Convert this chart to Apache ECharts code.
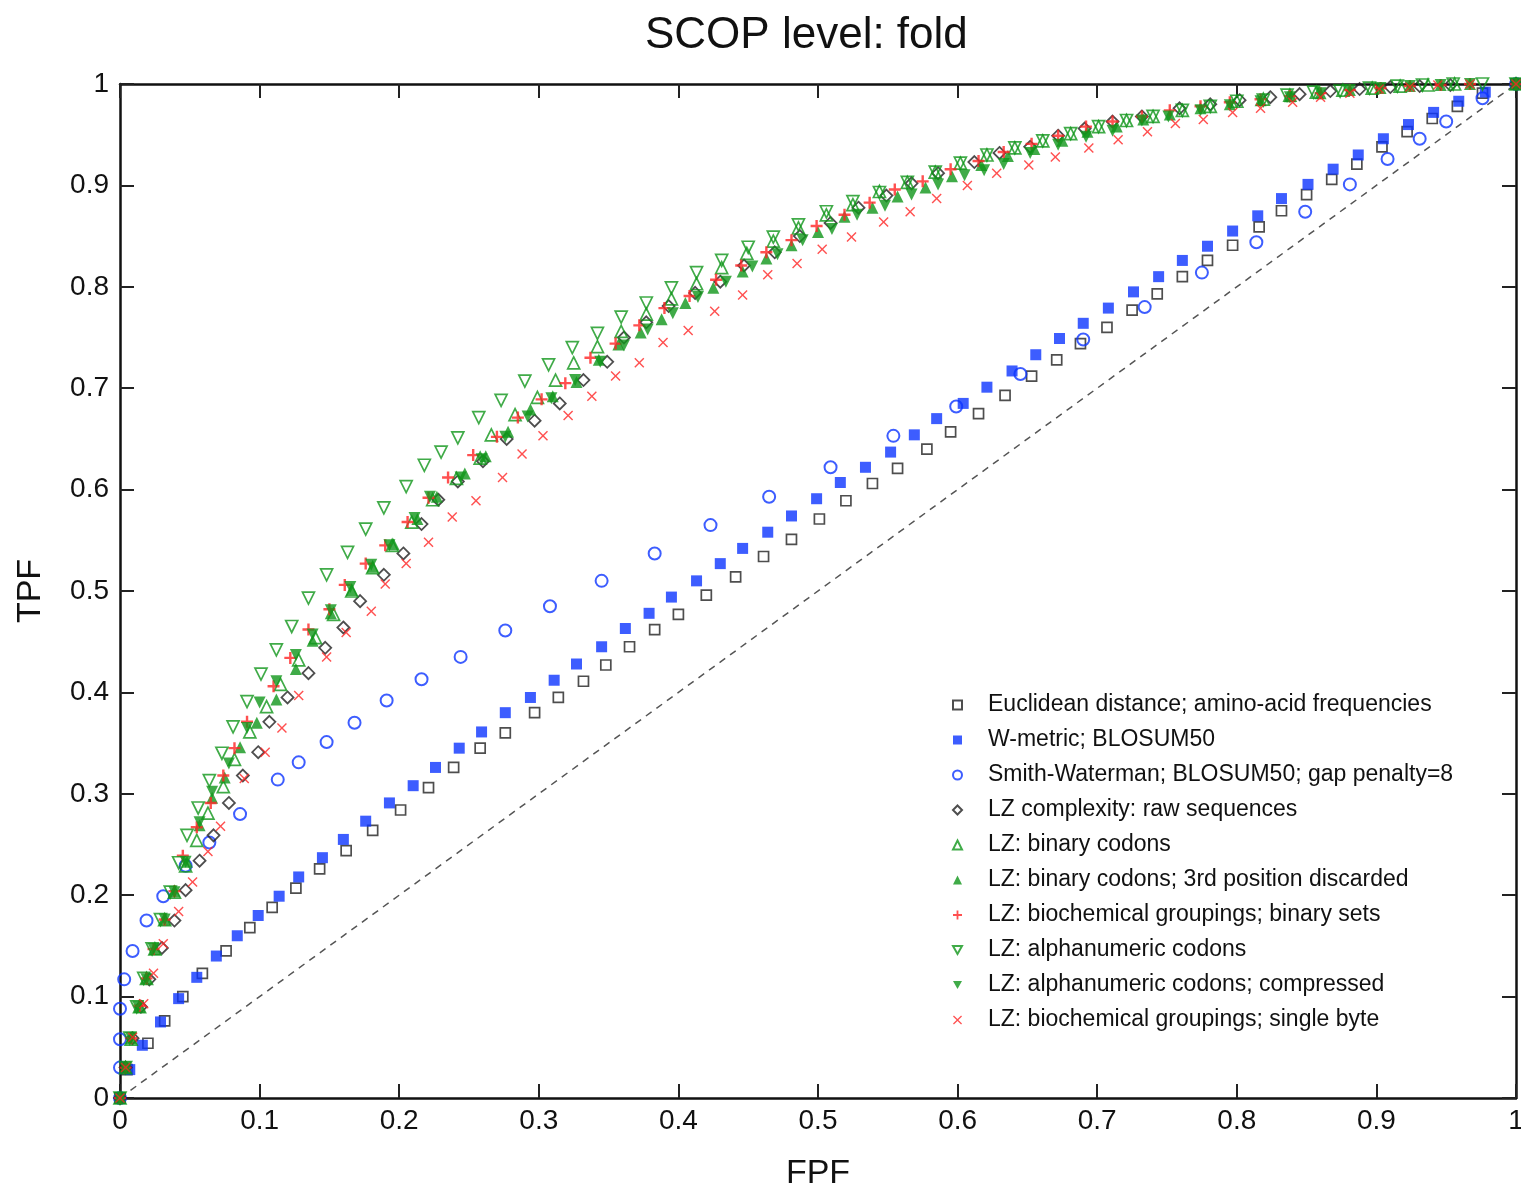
<!DOCTYPE html>
<html>
<head>
<meta charset="utf-8">
<title>SCOP level: fold</title>
<script src="https://cdn.jsdelivr.net/npm/echarts@6.0.0/dist/echarts.min.js"></script>
<style>
  html, body { margin: 0; padding: 0; background: #fff; overflow: hidden; }
  #chart { width: 1521px; height: 1191px; }
</style>
</head>
<body>
<div id="chart"></div>
<script>
// ROC points, [FPF, TPF]
const euclid = [[0,0],[0.005,0.028],[0.020,0.054],[0.032,0.076],[0.045,0.100],[0.059,0.123],[0.076,0.145],[0.093,0.168],[0.109,0.188],[0.126,0.207],[0.143,0.226],[0.162,0.244],[0.181,0.264],[0.201,0.284],[0.221,0.306],[0.239,0.326],[0.258,0.345],[0.276,0.360],[0.297,0.380],[0.314,0.395],[0.332,0.411],[0.348,0.427],[0.365,0.445],[0.383,0.462],[0.400,0.477],[0.420,0.496],[0.441,0.514],[0.461,0.534],[0.481,0.551],[0.501,0.571],[0.520,0.589],[0.539,0.606],[0.557,0.621],[0.578,0.640],[0.595,0.657],[0.615,0.675],[0.634,0.693],[0.653,0.712],[0.671,0.728],[0.688,0.744],[0.707,0.760],[0.725,0.777],[0.743,0.793],[0.761,0.810],[0.779,0.826],[0.797,0.841],[0.816,0.859],[0.832,0.875],[0.850,0.891],[0.868,0.906],[0.886,0.921],[0.904,0.938],[0.922,0.953],[0.940,0.966],[0.958,0.978],[0.976,0.991],[1,1]];
const wmetric = [[0,0],[0.007,0.028],[0.016,0.052],[0.029,0.075],[0.042,0.098],[0.055,0.119],[0.069,0.140],[0.084,0.160],[0.099,0.180],[0.114,0.199],[0.128,0.218],[0.145,0.237],[0.160,0.255],[0.176,0.273],[0.193,0.291],[0.210,0.308],[0.226,0.326],[0.243,0.345],[0.259,0.361],[0.276,0.380],[0.294,0.395],[0.311,0.412],[0.327,0.428],[0.345,0.445],[0.362,0.463],[0.379,0.478],[0.395,0.494],[0.413,0.510],[0.430,0.527],[0.446,0.542],[0.464,0.558],[0.481,0.574],[0.499,0.591],[0.516,0.607],[0.534,0.622],[0.552,0.637],[0.569,0.654],[0.585,0.670],[0.604,0.685],[0.621,0.701],[0.639,0.717],[0.656,0.733],[0.673,0.749],[0.690,0.764],[0.708,0.779],[0.726,0.795],[0.744,0.810],[0.761,0.826],[0.779,0.840],[0.797,0.855],[0.815,0.870],[0.832,0.887],[0.851,0.901],[0.869,0.916],[0.887,0.930],[0.905,0.946],[0.923,0.960],[0.941,0.972],[0.959,0.983],[0.978,0.992],[1,1]];
const smithW = [[0,0],[0,0.030],[0,0.058],[0,0.088],[0.003,0.117],[0.009,0.145],[0.019,0.175],[0.031,0.199],[0.047,0.229],[0.064,0.252],[0.086,0.280],[0.113,0.314],[0.128,0.331],[0.148,0.351],[0.168,0.370],[0.191,0.392],[0.216,0.413],[0.244,0.435],[0.276,0.461],[0.308,0.485],[0.345,0.510],[0.383,0.537],[0.423,0.565],[0.465,0.593],[0.509,0.622],[0.554,0.653],[0.599,0.682],[0.645,0.714],[0.690,0.748],[0.734,0.780],[0.775,0.814],[0.814,0.844],[0.849,0.874],[0.881,0.901],[0.908,0.926],[0.931,0.946],[0.950,0.963],[0.976,0.986],[1,1]];
const lzRaw = [[0,0],[0.004,0.030],[0.009,0.059],[0.015,0.090],[0.021,0.117],[0.030,0.148],[0.039,0.175],[0.047,0.205],[0.057,0.234],[0.067,0.259],[0.078,0.291],[0.088,0.318],[0.099,0.341],[0.107,0.371],[0.120,0.395],[0.135,0.419],[0.147,0.444],[0.160,0.464],[0.172,0.490],[0.189,0.516],[0.203,0.537],[0.216,0.566],[0.228,0.590],[0.242,0.608],[0.260,0.628],[0.277,0.650],[0.297,0.668],[0.315,0.685],[0.332,0.708],[0.349,0.726],[0.361,0.750],[0.377,0.765],[0.393,0.781],[0.412,0.794],[0.430,0.805],[0.447,0.821],[0.469,0.834],[0.487,0.850],[0.509,0.863],[0.529,0.878],[0.549,0.890],[0.567,0.902],[0.586,0.912],[0.612,0.923],[0.630,0.932],[0.652,0.938],[0.672,0.949],[0.691,0.956],[0.711,0.963],[0.732,0.968],[0.759,0.976],[0.781,0.980],[0.802,0.984],[0.824,0.987],[0.845,0.990],[0.867,0.993],[0.888,0.995],[0.910,0.997],[0.931,0.998],[0.953,0.999],[1,1]];
const lzBinary = [[0,0],[0.004,0.030],[0.008,0.058],[0.014,0.090],[0.019,0.118],[0.025,0.147],[0.032,0.176],[0.039,0.203],[0.047,0.229],[0.055,0.254],[0.063,0.281],[0.074,0.307],[0.082,0.334],[0.093,0.361],[0.105,0.386],[0.115,0.408],[0.128,0.432],[0.140,0.454],[0.153,0.477],[0.166,0.500],[0.181,0.523],[0.195,0.545],[0.209,0.568],[0.224,0.590],[0.241,0.611],[0.258,0.631],[0.266,0.654],[0.283,0.674],[0.299,0.691],[0.312,0.708],[0.325,0.725],[0.342,0.741],[0.359,0.756],[0.377,0.773],[0.395,0.788],[0.413,0.803],[0.431,0.819],[0.449,0.833],[0.468,0.845],[0.486,0.858],[0.506,0.871],[0.525,0.881],[0.544,0.894],[0.564,0.903],[0.584,0.913],[0.602,0.922],[0.621,0.930],[0.641,0.937],[0.661,0.944],[0.681,0.951],[0.701,0.958],[0.721,0.964],[0.740,0.968],[0.761,0.974],[0.781,0.978],[0.800,0.983],[0.819,0.985],[0.838,0.989],[0.857,0.992],[0.876,0.994],[0.897,0.996],[0.917,0.998],[0.937,0.999],[0.956,1],[1,1]];
const lzBinary3rd = [[0,0],[0.004,0.030],[0.008,0.059],[0.014,0.090],[0.019,0.118],[0.025,0.147],[0.032,0.176],[0.039,0.204],[0.048,0.233],[0.057,0.269],[0.066,0.296],[0.075,0.316],[0.086,0.346],[0.098,0.370],[0.112,0.393],[0.126,0.423],[0.138,0.451],[0.151,0.478],[0.166,0.501],[0.181,0.524],[0.196,0.546],[0.213,0.571],[0.227,0.593],[0.247,0.616],[0.262,0.633],[0.278,0.657],[0.294,0.679],[0.310,0.692],[0.327,0.706],[0.343,0.728],[0.357,0.743],[0.373,0.755],[0.388,0.768],[0.405,0.784],[0.425,0.799],[0.446,0.815],[0.463,0.828],[0.481,0.841],[0.500,0.854],[0.519,0.869],[0.539,0.878],[0.557,0.889],[0.577,0.898],[0.596,0.909],[0.617,0.920],[0.636,0.929],[0.655,0.936],[0.675,0.944],[0.693,0.953],[0.714,0.958],[0.733,0.965],[0.752,0.970],[0.774,0.976],[0.795,0.980],[0.817,0.984],[0.838,0.988],[0.860,0.991],[0.881,0.994],[0.903,0.996],[0.924,0.998],[0.946,0.999],[0.967,1],[1,1]];
const lzBioSets = [[0,0],[0.004,0.030],[0.008,0.059],[0.014,0.091],[0.019,0.118],[0.024,0.147],[0.032,0.176],[0.039,0.204],[0.045,0.239],[0.055,0.267],[0.065,0.291],[0.074,0.318],[0.082,0.345],[0.091,0.371],[0.110,0.406],[0.122,0.434],[0.135,0.462],[0.150,0.482],[0.161,0.506],[0.176,0.527],[0.190,0.545],[0.206,0.568],[0.221,0.592],[0.235,0.612],[0.253,0.634],[0.270,0.652],[0.285,0.671],[0.302,0.689],[0.319,0.705],[0.337,0.730],[0.355,0.744],[0.372,0.762],[0.390,0.779],[0.408,0.791],[0.427,0.807],[0.445,0.821],[0.463,0.834],[0.481,0.846],[0.499,0.860],[0.519,0.871],[0.537,0.883],[0.555,0.896],[0.575,0.904],[0.595,0.916],[0.615,0.924],[0.633,0.933],[0.653,0.941],[0.672,0.949],[0.692,0.958],[0.711,0.963],[0.732,0.968],[0.752,0.974],[0.774,0.978],[0.795,0.982],[0.817,0.985],[0.838,0.988],[0.860,0.991],[0.881,0.994],[0.903,0.996],[0.924,0.998],[0.946,0.999],[0.967,1],[1,1]];
const lzAlpha = [[0,0],[0.004,0.030],[0.007,0.059],[0.012,0.090],[0.017,0.118],[0.023,0.147],[0.029,0.176],[0.036,0.203],[0.042,0.232],[0.048,0.259],[0.056,0.286],[0.064,0.313],[0.073,0.340],[0.081,0.366],[0.091,0.391],[0.101,0.418],[0.112,0.442],[0.123,0.465],[0.135,0.493],[0.148,0.516],[0.163,0.538],[0.176,0.561],[0.189,0.582],[0.205,0.603],[0.218,0.624],[0.230,0.637],[0.242,0.651],[0.257,0.671],[0.273,0.688],[0.290,0.707],[0.307,0.723],[0.324,0.740],[0.342,0.754],[0.359,0.770],[0.377,0.784],[0.395,0.799],[0.413,0.814],[0.431,0.826],[0.450,0.839],[0.468,0.849],[0.486,0.861],[0.506,0.874],[0.525,0.884],[0.544,0.893],[0.564,0.903],[0.584,0.913],[0.602,0.922],[0.621,0.930],[0.641,0.937],[0.661,0.944],[0.681,0.951],[0.701,0.958],[0.721,0.964],[0.740,0.968],[0.761,0.974],[0.781,0.978],[0.800,0.983],[0.819,0.984],[0.836,0.989],[0.855,0.992],[0.874,0.993],[0.895,0.996],[0.915,0.998],[0.933,0.999],[0.955,1],[0.976,1],[1,1]];
const lzAlphaComp = [[0,0],[0.004,0.030],[0.008,0.059],[0.013,0.090],[0.019,0.117],[0.024,0.147],[0.032,0.176],[0.039,0.203],[0.047,0.233],[0.057,0.272],[0.066,0.302],[0.078,0.330],[0.091,0.365],[0.100,0.390],[0.112,0.411],[0.126,0.437],[0.138,0.457],[0.151,0.481],[0.165,0.504],[0.180,0.526],[0.193,0.545],[0.211,0.572],[0.222,0.593],[0.244,0.612],[0.259,0.630],[0.276,0.652],[0.292,0.672],[0.309,0.690],[0.326,0.708],[0.344,0.726],[0.361,0.742],[0.378,0.758],[0.396,0.774],[0.414,0.790],[0.434,0.805],[0.453,0.820],[0.471,0.832],[0.489,0.846],[0.510,0.857],[0.528,0.871],[0.548,0.880],[0.567,0.891],[0.586,0.901],[0.605,0.910],[0.619,0.915],[0.633,0.921],[0.652,0.932],[0.672,0.940],[0.692,0.948],[0.711,0.954],[0.732,0.964],[0.751,0.968],[0.774,0.974],[0.795,0.979],[0.817,0.983],[0.838,0.987],[0.860,0.991],[0.881,0.994],[0.903,0.996],[0.924,0.998],[0.946,0.999],[0.967,1],[1,1]];
const lzBioByte = [[0,0],[0.004,0.030],[0.009,0.060],[0.017,0.093],[0.024,0.123],[0.031,0.152],[0.042,0.184],[0.052,0.213],[0.063,0.243],[0.072,0.268],[0.089,0.315],[0.104,0.341],[0.116,0.365],[0.128,0.397],[0.148,0.435],[0.162,0.459],[0.180,0.480],[0.190,0.507],[0.205,0.527],[0.221,0.548],[0.238,0.573],[0.255,0.589],[0.274,0.612],[0.288,0.635],[0.303,0.653],[0.321,0.673],[0.338,0.692],[0.355,0.712],[0.372,0.725],[0.389,0.745],[0.407,0.757],[0.426,0.776],[0.446,0.792],[0.464,0.812],[0.485,0.823],[0.503,0.837],[0.524,0.849],[0.547,0.864],[0.566,0.874],[0.585,0.887],[0.607,0.900],[0.628,0.912],[0.651,0.920],[0.670,0.928],[0.694,0.937],[0.715,0.945],[0.736,0.953],[0.756,0.961],[0.776,0.965],[0.797,0.972],[0.817,0.976],[0.840,0.982],[0.860,0.987],[0.881,0.991],[0.902,0.995],[0.924,0.997],[0.944,0.999],[0.967,1],[1,1]];

const names = [
  'Euclidean distance; amino-acid frequencies',
  'W-metric; BLOSUM50',
  'Smith-Waterman; BLOSUM50; gap penalty=8',
  'LZ complexity: raw sequences',
  'LZ: binary codons',
  'LZ: binary codons; 3rd position discarded',
  'LZ: biochemical groupings; binary sets',
  'LZ: alphanumeric codons',
  'LZ: alphanumeric codons; compressed',
  'LZ: biochemical groupings; single byte'
];

const GREEN = '#10961a';
const BLUE = '#0d34ff';
const RED = '#ff2424';
const downTri = 'path://M0,0 L10,0 L5,9 Z';
const plusPath = 'path://M4,0 L6,0 L6,4 L10,4 L10,6 L6,6 L6,10 L4,10 L4,6 L0,6 L0,4 L4,4 Z';
const crossPath = 'path://M1,0 L5,4 L9,0 L10,1 L6,5 L10,9 L9,10 L5,6 L1,10 L0,9 L4,5 L0,1 Z';
const none = 'rgba(0,0,0,0)';

function hollow(color, width) {
  return { color: none, borderColor: color, borderWidth: width || 1.7 };
}

const chart = echarts.init(document.getElementById('chart'));
const font = 'Liberation Sans, Arial, Helvetica, sans-serif';

const axisCommon = {
  type: 'value',
  min: 0,
  max: 1,
  interval: 0.1,
  splitLine: { show: false },
  axisLine: { show: true, onZero: false, lineStyle: { color: '#111', width: 2.5 } },
  axisTick: { show: true, inside: true, length: 14, lineStyle: { color: '#222', width: 2 } }
};

chart.setOption({
  animation: false,
  backgroundColor: '#fff',
  title: {
    text: 'SCOP level: fold',
    left: 640,
    top: 9,
    textStyle: { fontFamily: font, fontSize: 44, fontWeight: 'normal', color: '#111' }
  },
  grid: { left: 120, right: 5, top: 84, bottom: 93, containLabel: false, outerBoundsMode: 'none' },
  legend: {
    orient: 'vertical',
    left: 952,
    top: 693,
    padding: 0,
    itemGap: 11,
    itemWidth: 9,
    itemHeight: 9,
    data: names,
    textStyle: { fontFamily: font, fontSize: 23, color: '#111', lineHeight: 24, padding: [0, 0, 0, 21] }
  },
  xAxis: [
    Object.assign({}, axisCommon, {
      position: 'bottom',
      name: 'FPF',
      nameLocation: 'middle',
      nameGap: 59,
      nameTextStyle: { fontFamily: font, fontSize: 34, color: '#111' },
      axisLabel: { fontFamily: font, fontSize: 28, color: '#111', margin: 9 }
    }),
    Object.assign({}, axisCommon, { position: 'top', axisLabel: { show: false } })
  ],
  yAxis: [
    Object.assign({}, axisCommon, {
      position: 'left',
      name: 'TPF',
      nameLocation: 'middle',
      nameGap: 72,
      nameRotate: 90,
      nameTextStyle: { fontFamily: font, fontSize: 34, color: '#111' },
      axisLabel: { fontFamily: font, fontSize: 28, color: '#111', margin: 11 }
    }),
    Object.assign({}, axisCommon, { position: 'right', axisLabel: { show: false } })
  ],
  series: [
    {
      name: 'chance',
      type: 'line',
      data: [[0, 0], [1, 1]],
      symbol: 'none',
      silent: true,
      z: 1,
      lineStyle: { color: '#555', width: 1.5, type: [7, 6] }
    },
    { name: names[0], type: 'scatter', data: euclid, symbol: 'rect', symbolSize: 10, itemStyle: hollow('#222', 1.7) },
    { name: names[1], type: 'scatter', data: wmetric, symbol: 'rect', symbolSize: 11, itemStyle: { color: BLUE } },
    { name: names[2], type: 'scatter', data: smithW, symbol: 'circle', symbolSize: 12, itemStyle: hollow(BLUE, 2) },
    { name: names[3], type: 'scatter', data: lzRaw, symbol: 'diamond', symbolSize: 12, itemStyle: hollow('#222', 1.8) },
    { name: names[4], type: 'scatter', data: lzBinary, symbol: 'triangle', symbolSize: 12, itemStyle: hollow(GREEN, 1.7) },
    { name: names[5], type: 'scatter', data: lzBinary3rd, symbol: 'triangle', symbolSize: 12, itemStyle: { color: GREEN } },
    { name: names[6], type: 'scatter', data: lzBioSets, symbol: plusPath, symbolSize: 12, itemStyle: { color: RED } },
    { name: names[7], type: 'scatter', data: lzAlpha, symbol: downTri, symbolSize: 12, itemStyle: hollow(GREEN, 1.7) },
    { name: names[8], type: 'scatter', data: lzAlphaComp, symbol: downTri, symbolSize: 12, itemStyle: { color: GREEN } },
    { name: names[9], type: 'scatter', data: lzBioByte, symbol: crossPath, symbolSize: 10, itemStyle: { color: RED } }
  ]
});
</script>
</body>
</html>
